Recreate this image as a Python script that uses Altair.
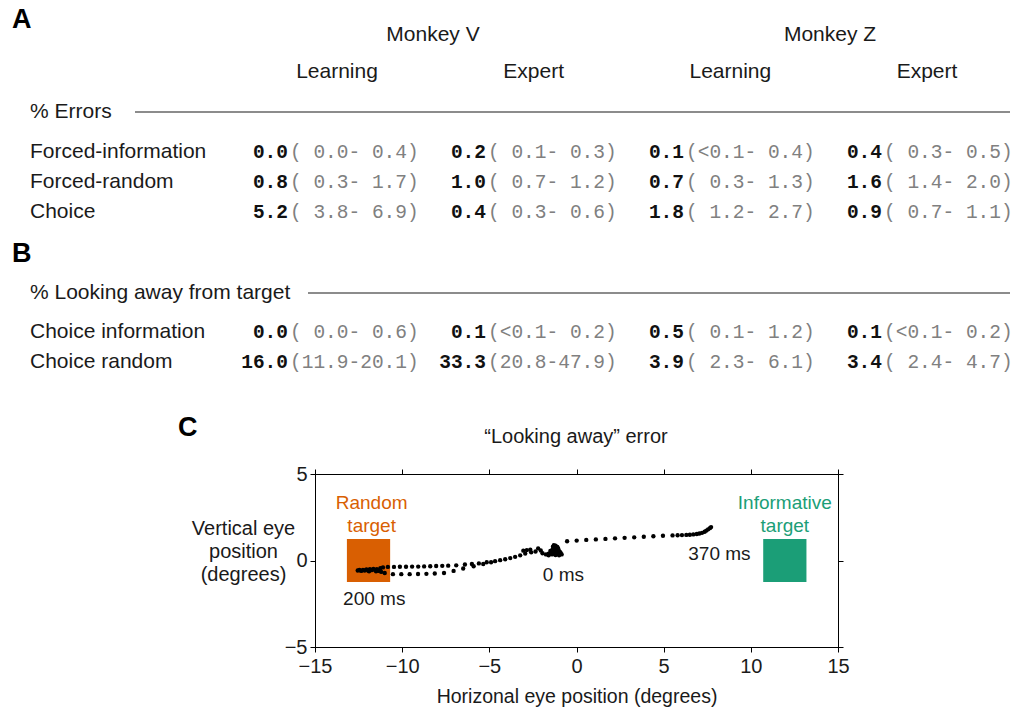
import altair as alt
import pandas as pd

# ---------------- data ----------------
monkeys = ["Monkey V", "Monkey Z"]
stages = ["Learning", "Expert", "Learning", "Expert"]

error_rows = ["Forced-information", "Forced-random", "Choice"]
error_pct = [["0.0", "0.2", "0.1", "0.4"],
             ["0.8", "1.0", "0.7", "1.6"],
             ["5.2", "0.4", "1.8", "0.9"]]
error_ci = [["( 0.0- 0.4)", "( 0.1- 0.3)", "(<0.1- 0.4)", "( 0.3- 0.5)"],
            ["( 0.3- 1.7)", "( 0.7- 1.2)", "( 0.3- 1.3)", "( 1.4- 2.0)"],
            ["( 3.8- 6.9)", "( 0.3- 0.6)", "( 1.2- 2.7)", "( 0.7- 1.1)"]]

look_rows = ["Choice information", "Choice random"]
look_pct = [["0.0", "0.1", "0.5", "0.1"],
            ["16.0", "33.3", "3.9", "3.4"]]
look_ci = [["( 0.0- 0.6)", "(<0.1- 0.2)", "( 0.1- 1.2)", "(<0.1- 0.2)"],
           ["(11.9-20.1)", "(20.8-47.9)", "( 2.3- 6.1)", "( 2.4- 4.7)"]]

# eye trace (degrees)
eye_x = [
    # fixation cluster (0 ms)
    -1.75, -1.6, -1.45, -1.3, -1.15, -1.0, -0.85, -1.6, -1.4, -1.2, -1.0, -1.5, -1.35,
    -1.25, -1.2, -1.3, -1.1, -1.05, -1.4, -1.2, -0.95, -1.3,
    -1.55, -1.45, -1.15, -1.0, -0.9, -1.35, -1.25, -1.1, -1.2, -1.4,
    # scattered samples
    -1.95, -2.05, -2.2, -2.35, -2.6, -2.65, -2.85, -3.05,
    # upper path
    -2.94, -3.23, -3.52, -3.80, -4.09, -4.38, -4.67, -5.15, -5.60, -6.00, -6.40, -6.90,
    -7.36, -7.70, -8.05, -8.39, -8.74, -9.08, -9.43, -9.78, -10.13, -10.47, -10.82, -11.1,
    # cluster at random target (200 ms)
    -12.55, -12.45, -12.35, -12.25, -12.15, -12.05, -11.95, -11.85, -11.75, -11.65, -11.55,
    -11.45, -11.35, -11.25, -11.2, -11.5, -11.9,
    # lower path
    -11.0, -10.53, -10.05, -9.57, -9.09, -8.61, -8.13, -7.6, -7.05, -6.5, -5.9, -5.35, -4.9,
    # path toward informative target (370 ms)
    -0.54, 0.01, 0.56, 1.11, 1.66, 2.21, 2.76, 3.31, 3.86, 4.41, 4.96, 5.51,
    5.8, 6.05, 6.3, 6.5, 6.7, 6.9, 7.05, 7.2, 7.35, 7.45, 7.55, 7.65, 7.72,
]
eye_y = [
    0.35, 0.4, 0.45, 0.5, 0.45, 0.4, 0.35, 0.3, 0.35, 0.32, 0.3, 0.55, 0.65,
    0.75, 0.85, 0.88, 0.6, 0.7, 0.6, 0.55, 0.5, 0.4,
    0.38, 0.5, 0.65, 0.55, 0.42, 0.8, 0.68, 0.78, 0.45, 0.42,
    0.42, 0.58, 0.7, 0.52, 0.47, 0.62, 0.6, 0.57,
    0.40, 0.30, 0.21, 0.14, 0.07, 0.02, -0.04, -0.10, -0.17, -0.20, -0.23, -0.28,
    -0.30, -0.31, -0.32, -0.33, -0.34, -0.35, -0.35, -0.36, -0.36, -0.37, -0.37, -0.40,
    -0.58, -0.55, -0.60, -0.55, -0.58, -0.52, -0.58, -0.50, -0.56, -0.48, -0.55,
    -0.50, -0.60, -0.45, -0.66, -0.62, -0.62,
    -0.72, -0.79, -0.79, -0.79, -0.78, -0.77, -0.75, -0.72, -0.60, -0.46, -0.33, -0.20, -0.10,
    1.11, 1.15, 1.19, 1.22, 1.25, 1.28, 1.31, 1.34, 1.37, 1.40, 1.43, 1.45,
    1.46, 1.47, 1.48, 1.49, 1.51, 1.53, 1.56, 1.60, 1.66, 1.73, 1.80, 1.87, 1.93,
]

target_names = ["Random", "Informative"]
target_labels = ["Random\ntarget", "Informative\ntarget"]
target_x = [-11.93, 11.95]
target_y = [0.0, 0.0]
target_half = 1.24
target_label_x = [-11.75, 11.95]
target_label_y = [3.3, 3.3]

event_labels = ["200 ms", "0 ms", "370 ms"]
event_x = [-11.6, -0.75, 8.2]
event_y = [-2.2, -0.85, 0.35]

ORANGE = "#D95F02"
TEAL = "#1B9E77"
SANS = "Liberation Sans, Arial, Helvetica, sans-serif"
MONO = "Liberation Mono, Courier New, monospace"
NB = "\u00a0"

# ---------------- layout (page pixels) ----------------
OX, OY = 315, 474          # plot-area origin on the page
W, H = 523, 173            # plot-area size
PAGE_W, PAGE_H = 1013, 709


def px(x):
    return x - OX


def py(y):
    return y - OY


# ---------------- tables ----------------
cells = []
for r, (pr, cr) in enumerate(zip(error_pct, error_ci)):
    for c in range(4):
        cells.append({"r": r, "c": c, "pct": pr[c], "ci": cr[c].replace(" ", NB)})
for k, (pr, cr) in enumerate(zip(look_pct, look_ci)):
    for c in range(4):
        cells.append({"r": 6 + k, "c": c, "pct": pr[c], "ci": cr[c].replace(" ", NB)})
cells = pd.DataFrame(cells)
row_labels = pd.DataFrame({"label": error_rows + look_rows, "r": [0, 1, 2, 6, 7]})
stage_df = pd.DataFrame({"stage": stages, "c": [0, 1, 2, 3]})
monkey_df = pd.DataFrame({"monkey": monkeys, "m": [0, 1]})

row_scale = alt.Scale(domain=[0, 7], range=[py(152), py(362)])
col_scale = alt.Scale(domain=[0, 3], range=[px(288), px(882)])

row_label_layer = alt.Chart(row_labels).mark_text(
    align="left", baseline="middle", font=SANS, fontSize=21, color="#1a1a1a"
).encode(x=alt.value(px(30)), y=alt.Y("r:Q", scale=row_scale, axis=None), text="label:N")

pct_layer = alt.Chart(cells).mark_text(
    align="right", baseline="middle", font=MONO, fontSize=19.5, fontWeight="bold", color="#111"
).encode(x=alt.X("c:Q", scale=col_scale, axis=None),
         y=alt.Y("r:Q", scale=row_scale, axis=None), text="pct:N")

ci_layer = alt.Chart(cells).mark_text(
    align="left", baseline="middle", font=MONO, fontSize=19.5, color="#808080", dx=2
).encode(x=alt.X("c:Q", scale=col_scale, axis=None),
         y=alt.Y("r:Q", scale=row_scale, axis=None), text="ci:N")

stage_layer = alt.Chart(stage_df).mark_text(
    align="center", baseline="middle", font=SANS, fontSize=21, color="#1a1a1a"
).encode(x=alt.X("c:Q", scale=alt.Scale(domain=[0, 3], range=[px(337), px(927)]), axis=None),
         y=alt.value(py(72)), text="stage:N")

monkey_layer = alt.Chart(monkey_df).mark_text(
    align="center", baseline="middle", font=SANS, fontSize=21, color="#1a1a1a"
).encode(x=alt.X("m:Q", scale=alt.Scale(domain=[0, 1], range=[px(433), px(830)]), axis=None),
         y=alt.value(py(35)), text="monkey:N")


def free_text(txt, x, y, size=21, weight="normal", align="left", color="#1a1a1a"):
    return alt.Chart(pd.DataFrame({"t": [txt]})).mark_text(
        align=align, baseline="middle", font=SANS, fontSize=size, fontWeight=weight, color=color
    ).encode(x=alt.value(px(x)), y=alt.value(py(y)), text="t:N")


section_a = free_text("% Errors", 30, 112)
section_b = free_text("% Looking away from target", 30, 293)
letter_a = free_text("A", 12, 20, size=27, weight="bold", color="#000")
letter_b = free_text("B", 12, 254, size=27, weight="bold", color="#000")
letter_c = free_text("C", 178, 428, size=27, weight="bold", color="#000")
title_c = free_text("\u201cLooking away\u201d error", 576, 437, size=20, align="center")

rule_a = alt.Chart(pd.DataFrame({"k": [0]})).mark_rule(color="#666", strokeWidth=1.4).encode(
    x=alt.value(px(135)), x2=alt.value(px(1010)), y=alt.value(py(112)))
rule_b = alt.Chart(pd.DataFrame({"k": [0]})).mark_rule(color="#666", strokeWidth=1.4).encode(
    x=alt.value(px(308)), x2=alt.value(px(1010)), y=alt.value(py(293)))

# ---------------- eye-position plot ----------------
xs = alt.Scale(domain=[-15, 15], nice=False, zero=False)
ys = alt.Scale(domain=[-5, 5], nice=False, zero=False)
color_scale = alt.Scale(domain=target_names, range=[ORANGE, TEAL])

axis_common = dict(grid=False, tickColor="#000", domainColor="#000", tickSize=5, labelFlush=False,
                   labelFont=SANS, labelFontSize=20, labelColor="#1a1a1a",
                   titleFont=SANS, titleFontSize=19.5, titleFontWeight="normal", titleColor="#1a1a1a")

x_bottom = alt.Axis(values=[-15, -10, -5, 0, 5, 10, 15], orient="bottom",
                    title="Horizonal eye position (degrees)", labelPadding=4,
                    titleY=49, titleBaseline="middle", **axis_common)
y_left = alt.Axis(values=[-5, 0, 5], orient="left", title=["Vertical eye", "position", "(degrees)"],
                  labelPadding=3, titleAngle=0, titleAlign="center", titleBaseline="middle",
                  titleX=243 - OX, titleY=528 - OY, titleLineHeight=23, titleFontSize=20,
                  **{k: v for k, v in axis_common.items() if k != "titleFontSize"})
x_top = alt.Axis(values=[-15, -10, -5, 0, 5, 10, 15], orient="top", labels=False, title=None,
                 grid=False, tickColor="#000", domainColor="#000", tickSize=5)
y_right = alt.Axis(values=[-5, 0, 5], orient="right", labels=False, title=None,
                   grid=False, tickColor="#000", domainColor="#000", tickSize=5)

targets = pd.DataFrame({
    "name": target_names,
    "x0": [v - target_half for v in target_x], "x1": [v + target_half for v in target_x],
    "y0": [v - target_half for v in target_y], "y1": [v + target_half for v in target_y],
})
target_rects = alt.Chart(targets).mark_rect().encode(
    x=alt.X("x0:Q", scale=xs, axis=x_bottom), x2="x1:Q",
    y=alt.Y("y0:Q", scale=ys, axis=y_left), y2="y1:Q",
    color=alt.Color("name:N", scale=color_scale, legend=None))

eye = pd.DataFrame({"x": eye_x, "y": eye_y})
eye_points = alt.Chart(eye).mark_circle(size=19, color="#000", opacity=1).encode(
    x=alt.X("x:Q", scale=xs, axis=x_top), y=alt.Y("y:Q", scale=ys, axis=y_right))

tl = pd.DataFrame({"name": target_names, "label": target_labels,
                   "x": target_label_x, "y": target_label_y})
target_text = alt.Chart(tl).mark_text(
    font=SANS, fontSize=19, align="center", baseline="middle", lineBreak="\n", lineHeight=23
).encode(x=alt.X("x:Q", scale=xs, axis=None), y=alt.Y("y:Q", scale=ys, axis=None),
         text="label:N", color=alt.Color("name:N", scale=color_scale, legend=None))

ev = pd.DataFrame({"label": event_labels, "x": event_x, "y": event_y})
event_text = alt.Chart(ev).mark_text(
    font=SANS, fontSize=19, align="center", baseline="middle", color="#1a1a1a"
).encode(x=alt.X("x:Q", scale=xs, axis=None), y=alt.Y("y:Q", scale=ys, axis=None), text="label:N")

chart = alt.layer(
    target_rects, eye_points, target_text, event_text,
    row_label_layer, pct_layer, ci_layer, stage_layer, monkey_layer,
    section_a, section_b, rule_a, rule_b, letter_a, letter_b, letter_c, title_c,
).resolve_scale(x="independent", y="independent", color="shared").properties(
    width=W, height=H,
    autosize=alt.AutoSizeParams(type="none"),
    padding={"left": OX, "top": OY, "right": PAGE_W - OX - W, "bottom": PAGE_H - OY - H},
    background="white",
).configure_view(stroke="#000", strokeWidth=1)

chart.save("out.html", embed_options={"renderer": "svg", "actions": False})
